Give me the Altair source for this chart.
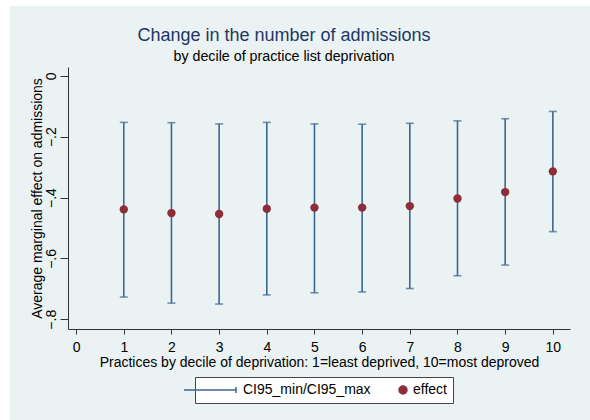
import altair as alt
import pandas as pd

# Average marginal effect by deprivation decile, with 95% CI bounds
deciles = [1, 2, 3, 4, 5, 6, 7, 8, 9, 10]
effect = [-0.439, -0.451, -0.454, -0.437, -0.433, -0.433, -0.428, -0.403, -0.382, -0.314]
ci95_min = [-0.727, -0.747, -0.750, -0.720, -0.713, -0.710, -0.699, -0.657, -0.622, -0.512]
ci95_max = [-0.153, -0.154, -0.158, -0.153, -0.158, -0.159, -0.156, -0.148, -0.141, -0.117]

y_ticks = [0, -0.2, -0.4, -0.6, -0.8]
x_ticks = [0, 1, 2, 3, 4, 5, 6, 7, 8, 9, 10]
series_names = ["CI95_min/CI95_max", "effect"]

FONT = "Liberation Sans"
BG = "#EAF2F3"
NAVY = "#3F6690"
MAROON = "#8E2D38"

df = pd.DataFrame({
    "decile": deciles,
    "effect": effect,
    "lo": ci95_min,
    "hi": ci95_max,
})
keys = pd.DataFrame({"series": series_names})

W, H = 502, 262

x_scale = alt.Scale(domain=[-0.17, 10.36], nice=False, zero=False)
y_scale = alt.Scale(domain=[-0.832, 0.029], nice=False, zero=False)

x_axis = alt.Axis(
    values=x_ticks, grid=False, tickSize=5, labelPadding=6,
    labelFontSize=14, labelFont=FONT, labelColor="#000",
    title="Practices by decile of deprivation: 1=least deprived, 10=most deproved",
    titleFontSize=14, titleFont=FONT, titleFontWeight="normal", titleColor="#000",
    titlePadding=1, domainColor="#333", tickColor="#333",
)
y_axis = alt.Axis(
    values=y_ticks, grid=True, gridColor=BG, gridWidth=1.5,
    tickSize=8, labelPadding=8.5, labelAngle=270, labelAlign="center",
    labelBaseline="middle",
    labelExpr="datum.value == 0 ? '0' : replace(format(datum.value, '.1f'), '0.', '.')",
    labelFontSize=14, labelFont=FONT, labelColor="#000",
    title="Average marginal effect on admissions",
    titleFontSize=14, titleFont=FONT, titleFontWeight="normal", titleColor="#000",
    titlePadding=0, domainColor="#333", tickColor="#333",
)

# thin white margin along the top and left edges of the graph region
edge = pd.DataFrame({"k": [0]})
top_strip = alt.Chart(edge).mark_rect(color="white").encode(
    x=alt.value(-68), x2=alt.value(522), y=alt.value(-67), y2=alt.value(-61)
)
left_strip = alt.Chart(edge).mark_rect(color="white").encode(
    x=alt.value(-68), x2=alt.value(-58), y=alt.value(-67), y2=alt.value(353)
)

base = alt.Chart(df)

bars = base.mark_errorbar(ticks=True, color=NAVY, thickness=1.6, size=8).encode(
    x=alt.X("decile:Q", scale=x_scale, axis=x_axis),
    y=alt.Y("lo:Q", scale=y_scale, axis=y_axis),
    y2="hi:Q",
)

points = base.mark_point(filled=True, opacity=1, color=MAROON, size=70).encode(
    x=alt.X("decile:Q", scale=x_scale),
    y=alt.Y("effect:Q", scale=y_scale),
)

# legend keys: a capped line for the interval, a dot for the estimate
legend = alt.Legend(
    title=None, orient="none", legendX=127, legendY=310, direction="horizontal",
    strokeColor="#444", fillColor="white", padding=6,
    labelFont=FONT, labelFontSize=14, labelColor="#000", labelOffset=28,
    symbolSize=64, symbolStrokeWidth=1.5, symbolOpacity=1, columnPadding=0,
)
key_paths = [
    "M-6,0H7M7,-0.75V0.75",
    "M5.25,0a1,1 0 1,0 2,0a1,1 0 1,0 -2,0",
]
key_layer = alt.Chart(keys).mark_point(filled=True, opacity=0).encode(
    color=alt.Color("series:N", scale=alt.Scale(domain=series_names, range=[NAVY, MAROON]), legend=legend),
    stroke=alt.Stroke("series:N", scale=alt.Scale(domain=series_names, range=[NAVY, MAROON]), legend=legend),
    shape=alt.Shape("series:N", scale=alt.Scale(domain=series_names, range=key_paths), legend=legend),
)

chart = alt.layer(top_strip, left_strip, bars, points, key_layer).properties(
    width=W, height=H,
    autosize=alt.AutoSizeParams(type="none"),
    padding={"left": 68, "top": 67, "right": 20, "bottom": 91},
    background=BG,
    title=alt.TitleParams(
        text="Change in the number of admissions",
        subtitle="by decile of practice list deprivation",
        anchor="middle", frame="group", dx=-35, dy=68, offset=4,
        font=FONT, fontSize=18, fontWeight="normal", color="#1E3765",
        subtitleFont=FONT, subtitleFontSize=14.25, subtitleColor="#000",
        subtitlePadding=5,
    ),
).configure_view(stroke=None, fill="white")

chart.save("out.html", embed_options={"renderer": "svg", "actions": False})
